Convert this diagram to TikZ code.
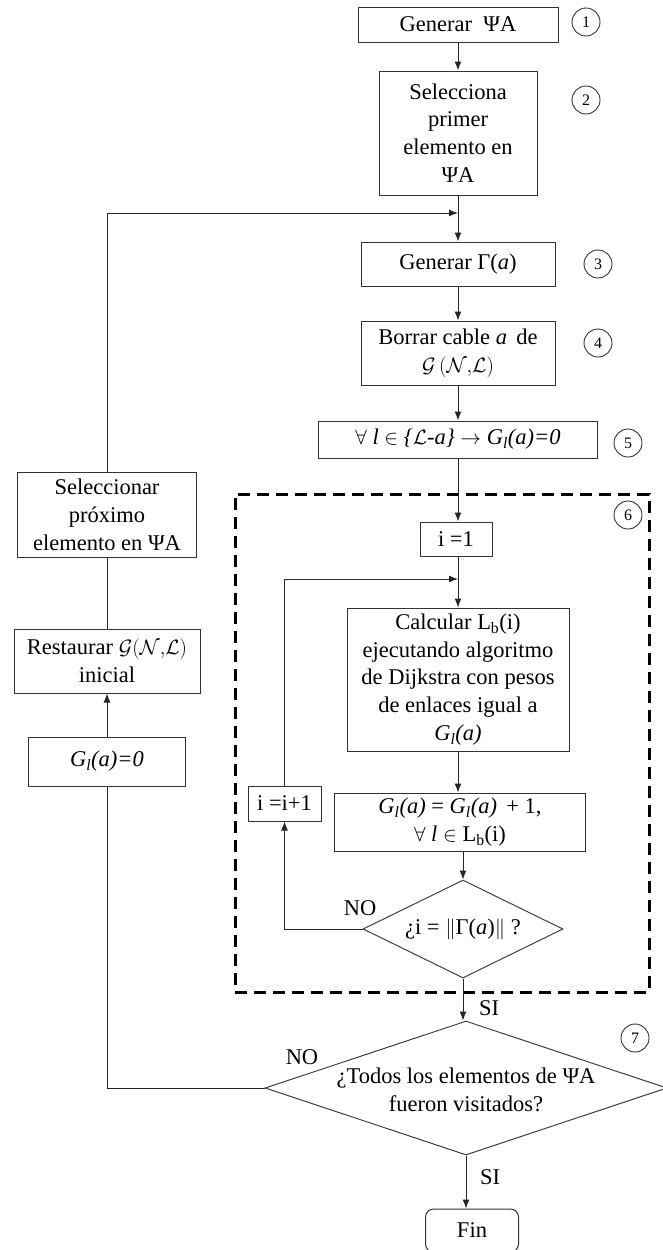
\documentclass[tikz,border=0pt]{standalone}
\usepackage{fontspec}
\setmainfont{Liberation Serif}
\usetikzlibrary{arrows.meta,shapes.geometric}
\tikzset{
  base/.style={font=\fontsize{22.5}{27.8}\selectfont},
  box/.style={base, draw=black!80, line width=1pt, align=center, inner sep=0pt},
  num/.style={circle, draw=black!80, line width=0.9pt, minimum size=28pt, inner sep=0pt, font=\fontsize{16}{16}\selectfont},
  arr/.style={-{Latex[length=9pt,width=7pt]}, line width=1pt, draw=black!85},
  ln/.style={line width=1pt, draw=black!85},
  dia/.style={diamond, draw=black!75, line width=1pt, inner sep=0pt},
  grp/.style={draw=black, line width=3pt, dash pattern=on 12pt off 7pt},
  lbl/.style={base, inner sep=0pt},
}
\begin{document}
\begin{tikzpicture}[x=1pt,y=-1pt]
\useasboundingbox (0,0) rectangle (662,1250);
% dashed group
\node[grp, minimum width=414pt, minimum height=498pt] (group) at (442,743) {};
% main column
\node[box, minimum width=200pt, minimum height=35pt] (b1) at (458,24.5) {Generar \ ΨA};
\node[box, minimum width=158pt, minimum height=124pt] (b2) at (458,133) {Selecciona\\primer\\elemento en\\ΨA};
\node[box, minimum width=194pt, minimum height=44pt] (b3) at (458,264) {Generar Γ(\textit{a})};
\node[box, minimum width=194pt, minimum height=64pt] (b4) at (458,353) {Borrar cable \textit{a}\, de\\$\mathcal{G}\,(\mathcal{N}{,}\mathcal{L})$};
\node[box, minimum width=279pt, minimum height=37pt] (b5) at (458,439.5) {$\forall$ \textit{l} $\in$ \textit{\{$\mathcal{L}$-a\}} $\rightarrow$ \textit{G\textsubscript{l}(a)=0}};
\node[box, minimum width=72pt, minimum height=34pt] (i1) at (456,539) {i =1};
\node[box, minimum width=222pt, minimum height=143pt] (calc) at (458,679.5) {Calcular L\textsubscript{b}(i)\\ejecutando algoritmo\\de Dijkstra con pesos\\de enlaces igual a\\\textit{G\textsubscript{l}(a)}};
\node[box, minimum width=251pt, minimum height=58pt] (gl) at (460,822) {\textit{G\textsubscript{l}(a)} = \textit{G\textsubscript{l}(a)}\, + 1,\\$\forall$ \textit{l} $\in$ L\textsubscript{b}(i)};
\node[box, minimum width=73pt, minimum height=35pt] (inc) at (284.5,803.5) {i =i+1};
\node[dia, minimum width=200pt, minimum height=98pt] (d1) at (463,929) {};
\node[lbl] (t1) at (463,929) {¿i = $\|$Γ(\textit{a})$\|$ ?};
\node[dia, minimum width=402pt, minimum height=134pt] (d2) at (466,1088) {};
\node[lbl, align=center] (t2) at (466,1090) {¿Todos los elementos de ΨA\\fueron visitados?};
\node[box, rounded corners=8pt, minimum width=93pt, minimum height=43pt] (fin) at (472,1230.5) {Fin};
% left column
\node[box, minimum width=179pt, minimum height=85pt] (sel) at (107,514.5) {Seleccionar\\próximo\\elemento en ΨA};
\node[box, minimum width=186pt, minimum height=64pt] (rest) at (107,661) {Restaurar $\mathcal{G}(\mathcal{N}{,}\mathcal{L})$\\inicial};
\node[box, minimum width=157pt, minimum height=49pt] (gl0) at (107,761.5) {\textit{G\textsubscript{l}(a)=0}};
% numbers
\node[num] (c1) at (586,22) {1};
\node[num] (c2) at (586,100) {2};
\node[num] (c3) at (598,264) {3};
\node[num] (c4) at (598,343) {4};
\node[num] (c5) at (628,443) {5};
\node[num] (c6) at (628,515) {6};
\node[num] (c7) at (635,1038) {7};
% labels
\node[lbl] (no1) at (360,908) {NO};
\node[lbl] (si1) at (489,1008) {SI};
\node[lbl] (no2) at (302,1057) {NO};
\node[lbl] (si2) at (490,1177) {SI};
% junctions
\coordinate (j1) at (458,213);
\coordinate (j2) at (458,579);
% connectors
\draw[arr] (b1) -- (b2);
\draw[arr] (b2) -- (b3);
\draw[arr] (b3) -- (b4);
\draw[arr] (b4) -- (b5);
\draw[arr] (b5.south) -- (b5.south |- i1.north);
\draw[ln] (i1.south -| j2) -- (j2);
\draw[arr] (j2) -- (calc.north);
\draw[arr] (calc) -- (gl.north -| calc.south);
\draw[arr] (gl.south -| d1.north) -- (d1.north);
\draw[arr] (d1.west) -| (inc.south);
\draw[arr] (inc.north) |- (j2);
\draw[arr] (d1.south) -- (d1.south |- d2.north);
\draw[arr] (d2.south) -- (d2.south |- fin.north);
\draw[ln] (d2.west) -| (gl0.south);
\draw[arr] (gl0) -- (rest);
\draw[ln] (rest) -- (sel);
\draw[arr] (sel.north) |- (j1);
\end{tikzpicture}
\end{document}
